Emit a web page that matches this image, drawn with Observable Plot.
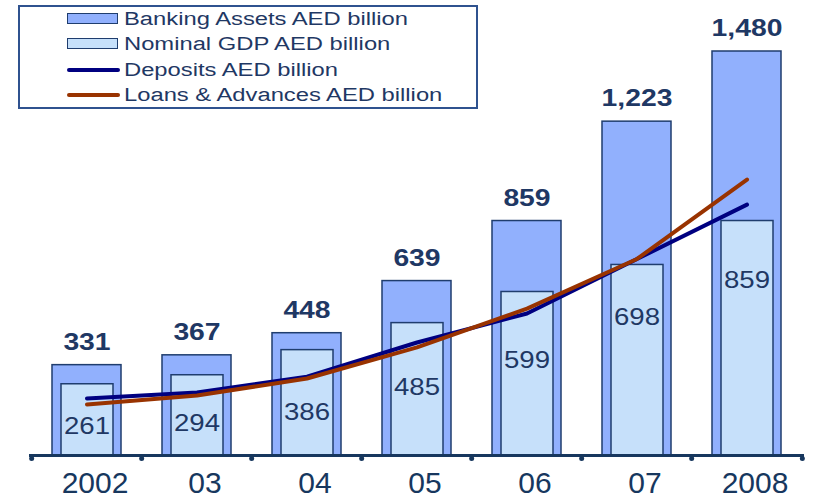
<!DOCTYPE html>
<html>
<head>
<meta charset="utf-8">
<script src="https://cdn.jsdelivr.net/npm/d3@7"></script>
<script src="https://cdn.jsdelivr.net/npm/@observablehq/plot@0.6"></script>
<style>
  html, body { margin: 0; padding: 0; background: #fff; }
  #wrap { position: relative; width: 814px; height: 499px; font-family: "Liberation Sans", Arial, sans-serif; }
  #legend { position: absolute; left: 18px; top: 5px; width: 460px; height: 104px; border: 2px solid #2f528f; box-sizing: border-box; background: #fff; }
  .item { position: absolute; left: 0; height: 24px; }
  .sw { position: absolute; left: 47px; }
  .sw.rect { width: 49px; height: 9px; border: 1.5px solid #1f3d6e; }
  .sw.line { width: 53px; height: 4px; border-radius: 2px; }
  .lbl { position: absolute; left: 104px; white-space: nowrap; font-size: 18px; color: #1f3864; transform: scaleX(1.32); transform-origin: left center; line-height: 24px; }
</style>
</head>
<body>
<div id="wrap">
  <div id="chart"></div>
  <div id="legend"></div>
</div>
<script>
const years = ["2002", "2003", "2004", "2005", "2006", "2007", "2008"];
const tickLabels = ["2002", "03", "04", "05", "06", "07", "2008"];
const bankingAssets = [331, 367, 448, 639, 859, 1223, 1480];
const nominalGDP = [261, 294, 386, 485, 599, 698, 859];
const deposits = [209, 231, 289, 414, 520, 720, 919];
const loans = [187, 220, 282, 396, 538, 720, 1011];

const seriesNames = ["Banking Assets AED billion", "Nominal GDP AED billion", "Deposits AED billion", "Loans & Advances AED billion"];
const colors = { assets: "#91b0fd", gdp: "#c6e0fa", deposits: "#000080", loans: "#993300", stroke: "#1f3d6e", text: "#1f3864", axis: "#17375e" };

const W = 814, H = 499, mT = 51, mB = 44, mL = 29, mR = 10;
const yMax = 1480;
const pxPerUnit = (H - mT - mB) / yMax;
const step = (W - mL - mR) / years.length;

const data = years.map((y, i) => {
  const minTop = Math.min(nominalGDP[i], deposits[i], loans[i]);
  const offsetPx = 22 + 6.2 * i;
  return {
    year: y,
    tick: tickLabels[i],
    assets: bankingAssets[i],
    gdp: nominalGDP[i],
    deposits: deposits[i],
    loans: loans[i],
    gdpLabelY: minTop - offsetPx / pxPerUnit
  };
});

const fmt = d3.format(",");

const chart = Plot.plot({
  width: W, height: H,
  marginTop: mT, marginBottom: mB, marginLeft: mL, marginRight: mR,
  x: { domain: years, paddingInner: 0.377, paddingOuter: 0.1885, axis: null },
  y: { domain: [0, yMax], axis: null },
  style: { fontFamily: "'Liberation Sans', Arial, sans-serif", background: "transparent", overflow: "visible" },
  marks: [
    Plot.barY(data, { x: "year", y: "assets", fill: colors.assets, stroke: colors.stroke, strokeWidth: 1.5 }),
    Plot.barY(data, { x: "year", y: "gdp", fill: colors.gdp, stroke: colors.stroke, strokeWidth: 1.5, insetLeft: 9, insetRight: 8 }),
    Plot.line(data, { x: "year", y: "deposits", stroke: colors.deposits, strokeWidth: 4, strokeLinecap: "round" }),
    Plot.line(data, { x: "year", y: "loans", stroke: colors.loans, strokeWidth: 4, strokeLinecap: "round" }),
    Plot.text(data, { x: "year", y: "assets", text: d => fmt(d.assets), dy: -23, lineAnchor: "middle", fontSize: 24, fontWeight: "bold", fill: colors.text }),
    Plot.text(data, { x: "year", y: "gdpLabelY", text: d => fmt(d.gdp), lineAnchor: "middle", fontSize: 23, fill: colors.text }),
    Plot.ruleY([0], { stroke: colors.axis, strokeWidth: 3 }),
    Plot.dot(data, { x: "year", y: () => 0, dx: -step / 2, dy: 3, r: 2.5, fill: colors.axis, stroke: null }),
    Plot.dot(data.slice(-1), { x: "year", y: () => 0, dx: step / 2, dy: 3, r: 2.5, fill: colors.axis, stroke: null }),
    Plot.text(data, { x: "year", y: () => 0, text: "tick", dx: 8, dy: 28, lineAnchor: "middle", fontSize: 30, fill: colors.axis })
  ]
});
document.getElementById("chart").appendChild(chart);

// Horizontally stretch label texts (reference uses wide lettering)
function stretch(group, s) {
  if (!group) return;
  d3.select(group).selectAll("text").each(function () {
    const bb = this.getBBox();
    const M = this.getCTM();
    const P = this.parentNode.getCTM();
    const pt = chart.createSVGPoint();
    pt.x = bb.x + bb.width / 2; pt.y = bb.y + bb.height / 2;
    const c = pt.matrixTransform(M);
    const S = chart.createSVGMatrix().translate(c.x, 0).scaleNonUniform(s, 1).translate(-c.x, 0);
    const local = P.inverse().multiply(S).multiply(M);
    this.transform.baseVal.initialize(chart.createSVGTransformFromMatrix(local));
  });
}
const textGroups = d3.select(chart).selectAll("g[aria-label='text']").nodes();
stretch(textGroups[0], 1.18);
stretch(textGroups[1], 1.2);

// Legend
const legend = document.getElementById("legend");
const legendItems = [
  { name: seriesNames[0], type: "rect", color: colors.assets },
  { name: seriesNames[1], type: "rect", color: colors.gdp },
  { name: seriesNames[2], type: "line", color: colors.deposits },
  { name: seriesNames[3], type: "line", color: colors.loans }
];
const rowCenters = [12, 37, 63, 88];
legendItems.forEach((it, i) => {
  const row = document.createElement("div");
  row.className = "item";
  row.style.top = (rowCenters[i] - 12) + "px";
  row.style.width = "100%";
  const sw = document.createElement("div");
  sw.className = "sw " + it.type;
  sw.style.background = it.color;
  sw.style.top = it.type === "rect" ? "6px" : "10px";
  const lb = document.createElement("div");
  lb.className = "lbl";
  lb.textContent = it.name;
  lb.style.top = "0px";
  row.appendChild(sw);
  row.appendChild(lb);
  legend.appendChild(row);
});
</script>
</body>
</html>
